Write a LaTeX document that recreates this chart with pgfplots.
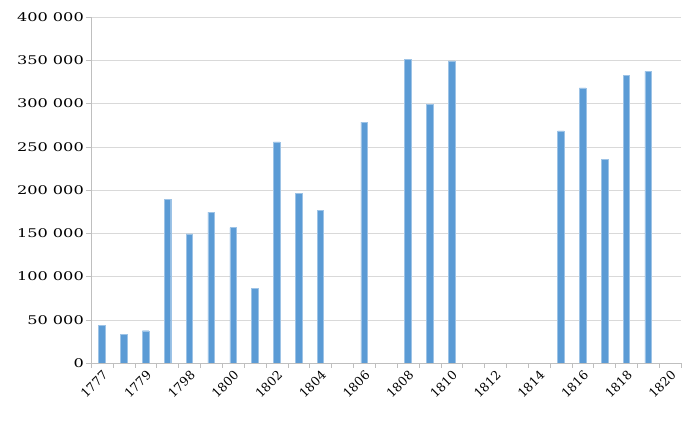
\documentclass[border=0pt]{standalone}
\usepackage{pgfplots}
\pgfplotsset{compat=1.18}
\usepackage{fontspec}
\setmainfont{DejaVu Serif}
\definecolor{barblue}{HTML}{5B9BD5}
\definecolor{gridgray}{HTML}{D9D9D9}
\definecolor{axgray}{HTML}{BFBFBF}

% index 0..26 = 1777,1778,1779,1780,1798,...,1820 (blank years left out)
\pgfplotstableread{
idx  val
0    43400
1    33500
2    37300
3    189300
4    149200
5    174300
6    156500
7    86600
8    255700
9    196200
10   176600
12   278500
14   351200
15   298900
16   349300
21   268400
22   318100
23   235800
24   332400
25   337000
}\recettes

\begin{document}
\begin{tikzpicture}
\begin{axis}[
  name=ax,
  scale only axis,
  width=590bp, height=346bp,
  ybar, bar width=6.5bp,
  xmin=-0.5, xmax=26.5,
  ymin=0, ymax=400000,
  ytick={0,50000,...,400000},
  scaled y ticks=false,
  /pgf/number format/.cd, fixed, 1000 sep={\ }, assume math mode=true,
  /pgfplots/.cd,
  yticklabel={\scalebox{1.35}[1]{\pgfmathprintnumber{\tick}}},
  yticklabel style={font=\fontsize{12}{14}\selectfont, inner sep=2pt},
  xtick={0,2,...,26},
  xticklabels={1777,1779,1798,1800,1802,1804,1806,1808,1810,1812,1814,1816,1818,1820},
  xticklabel style={font=\fontsize{12.5}{14}\selectfont, rotate=45, anchor=north east, inner sep=1pt},
  minor xtick={-0.5,0.5,...,26.5},
  major x tick style={draw=none},
  minor x tick style={axgray},
  y tick style={axgray},
  tick align=outside,
  major tick length=5bp, minor tick length=5bp,
  axis x line*=bottom, axis y line*=left,
  axis line style={axgray},
  ymajorgrids, grid style={gridgray},
]
\addplot[fill=barblue, draw=barblue!60, line width=0.4pt] table[x=idx, y=val] {\recettes};
\end{axis}
\pgfresetboundingbox
\path (ax.south west) ++(-91bp,-60bp) coordinate (a);
\path (ax.south west) ++(604bp,363bp) coordinate (b);
\useasboundingbox (a) rectangle (b);
\end{tikzpicture}
\end{document}
